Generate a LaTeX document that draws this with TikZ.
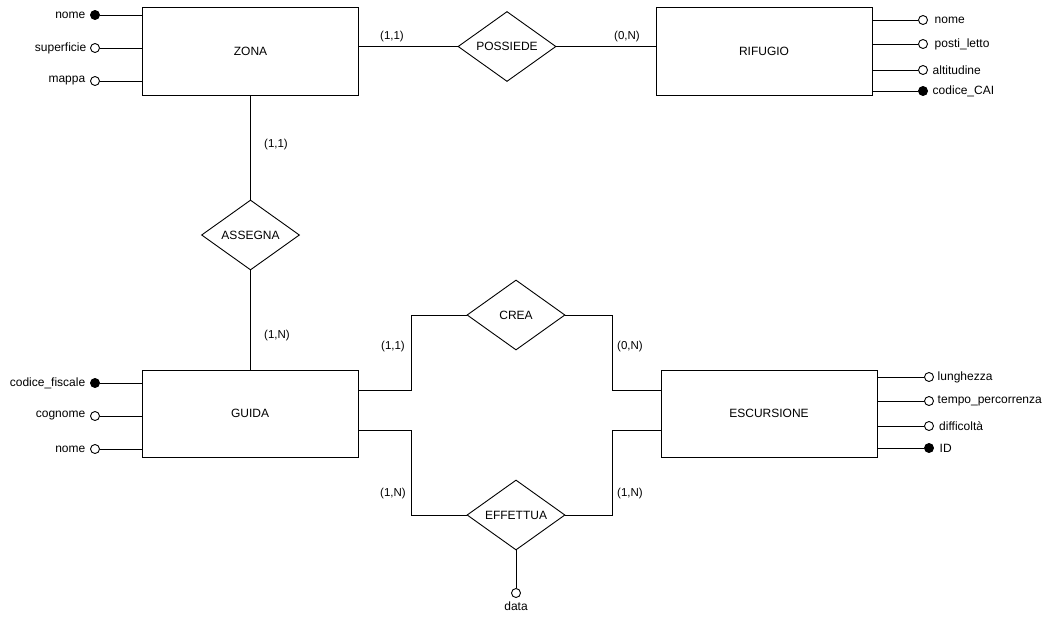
\documentclass[tikz,border=0pt]{standalone}
\usepackage{fontspec}
\setmainfont{Liberation Sans}
\usetikzlibrary{shapes.geometric}
\begin{document}
\begin{tikzpicture}[x=1pt,y=-1pt,line width=0.9pt,
  every node/.style={font=\fontsize{12}{14}\selectfont},
  entity/.style={draw,rectangle,minimum width=216pt,minimum height=88pt,inner sep=0pt},
  rel/.style={draw,diamond,aspect=1.4,minimum width=98pt,minimum height=70pt,inner sep=0pt},
  attr/.style={draw,circle,fill=white,minimum size=9pt,inner sep=0pt},
  key/.style={attr,fill=black},
  card/.style={inner sep=0pt,font=\fontsize{11.5}{13}\selectfont}]
\path[use as bounding box] (0,0) rectangle (1054,622);

% entities
\node[entity] (zona) at (250.5,51) {ZONA};
\node[entity] (rifugio) at (764,51) {RIFUGIO};
\node[entity,minimum height=87pt] (guida) at (250,413.5) {GUIDA};
\node[entity,minimum height=87pt] (escursione) at (769,413.5) {ESCURSIONE};

% relationships
\node[rel] (possiede) at (507,46.5) {POSSIEDE};
\node[rel] (assegna) at (250.5,235) {ASSEGNA};
\node[rel] (crea) at (516,315) {CREA};
\node[rel] (effettua) at (516,515) {EFFETTUA};

% ZONA attributes
\node[key,label={[label distance=1pt]left:nome}] (zn) at (95,15) {};
\node[attr,label={[label distance=0pt]left:superficie}] (zs) at (95,48) {};
\node[attr,label={[label distance=1pt]left:mappa}] (zm) at (95,81) {};
\foreach \a in {zn,zs,zm} \draw (\a) -- (\a -| zona.west);

% RIFUGIO attributes
\node[attr,label={[label distance=3pt]right:nome}] (rn) at (923,20) {};
\node[attr,label={[label distance=3pt]right:posti\_letto}] (rp) at (923,44) {};
\node[attr,label={[label distance=1pt]right:altitudine}] (ra) at (923,70) {};
\node[key,label={[label distance=1pt]right:codice\_CAI}] (rc) at (923,91) {};
\foreach \a in {rn,rp,ra,rc} \draw (\a) -- (\a -| rifugio.east);

% GUIDA attributes
\node[key,label={[label distance=1pt]left:codice\_fiscale}] (gc) at (95,383) {};
\node[attr,label={[label distance=1pt]left:cognome}] (gg) at (95,416) {};
\node[attr,label={[label distance=1pt]left:nome}] (gn) at (95,449) {};
\foreach \a in {gc,gg,gn} \draw (\a) -- (\a -| guida.west);

% ESCURSIONE attributes
\node[attr,label={[label distance=0pt]right:lunghezza}] (el) at (929,377) {};
\node[attr,label={[label distance=0pt]right:tempo\_percorrenza}] (et) at (929,401) {};
\node[attr,label={[label distance=1.5pt]right:difficoltà}] (ed) at (929,426) {};
\node[key,label={[label distance=2pt]right:ID}] (ei) at (929,448) {};
\foreach \a in {el,et,ed,ei} \draw (\a) -- (\a -| escursione.east);

% EFFETTUA attribute
\node[attr,label={[label distance=0pt]below:data}] (data) at (516,593) {};
\draw (effettua.south) -- (data);

% connectors
\draw (possiede.west -| zona.east) -- (possiede.west);
\draw (possiede.east) -- (possiede.east -| rifugio.west);
\draw (zona.south -| assegna.north) -- (assegna.north);
\draw (assegna.south) -- (assegna.south |- guida.north);
\draw ([yshift=23.5pt]guida.east) -- ++(53,0) |- (crea.west);
\draw (crea.east) -- ++(47,0) |- ([yshift=23.5pt]escursione.west);
\draw ([yshift=-16.5pt]guida.east) -- ++(53,0) |- (effettua.west);
\draw (effettua.east) -- ++(47,0) |- ([yshift=-16.5pt]escursione.west);

% cardinalities
\node[card] (c1) at (392,37) {(1,1)};
\node[card] (c2) at (627,37) {(0,N)};
\node[card] (c3) at (276,145) {(1,1)};
\node[card] (c4) at (277,336) {(1,N)};
\node[card] (c5) at (393,347) {(1,1)};
\node[card] (c6) at (630,347) {(0,N)};
\node[card] (c7) at (393,494) {(1,N)};
\node[card] (c8) at (630,494) {(1,N)};
\end{tikzpicture}
\end{document}
